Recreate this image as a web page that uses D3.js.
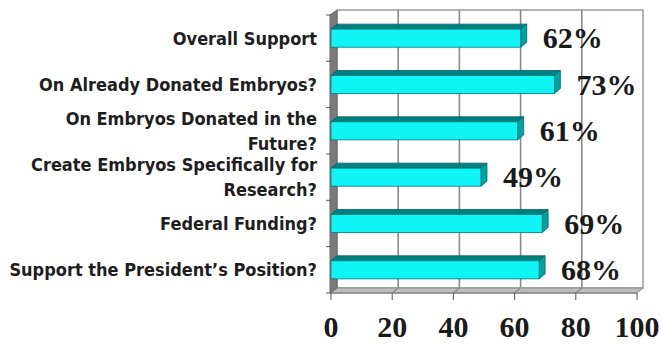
<!DOCTYPE html>
<html><head><meta charset="utf-8">
<script src="https://cdn.jsdelivr.net/npm/d3@7"></script>
<style>
html,body{margin:0;padding:0;background:#fff;}
svg{display:block;}
.cat{font-family:"Liberation Sans Narrow","Arial Narrow","DejaVu Sans Condensed",sans-serif;font-weight:bold;font-size:18px;fill:#1e1e1e;}
.val,.tick{font-family:"Liberation Serif","Times New Roman",serif;font-weight:bold;font-size:30px;fill:#1a1a1a;}
</style></head>
<body>
<svg id="chart" width="662" height="345"></svg>
<script>
const categories = ["Overall Support","On Already Donated Embryos?","On Embryos Donated in the Future?","Create Embryos Specifically for Research?","Federal Funding?","Support the President\u2019s Position?"];
const categoryLines = [["Overall Support"],["On Already Donated Embryos?"],["On Embryos Donated in the","Future?"],["Create Embryos Specifically for","Research?"],["Federal Funding?"],["Support the President\u2019s Position?"]];
const values = [62,73,61,49,69,68];
const xTicks = [0,20,40,60,80,100];
const valueLabels = ["62%","73%","61%","49%","69%","68%"];

const svg = d3.select("#chart");
const dx = 6, dy = -5;
const x = d3.scaleLinear().domain([0,100]).range([331,637]);
const y = d3.scaleBand().domain(categories).range([15,293]).paddingInner(0.61).paddingOuter(0.305);
const yTop = 15, yBot = 293;

// back wall
svg.append("rect").attr("x",x(0)+dx).attr("y",yTop+dy).attr("width",x(100)-x(0)).attr("height",yBot-yTop)
  .attr("fill","#fff").attr("stroke","#9a9a9a").attr("stroke-width",1.5);
// gridlines on back wall
svg.selectAll(".grid").data(xTicks.slice(1,-1)).join("line")
  .attr("x1",d=>x(d)+dx).attr("x2",d=>x(d)+dx).attr("y1",yTop+dy).attr("y2",yBot+dy)
  .attr("stroke","#8a8a8a").attr("stroke-width",1.6);
// floor
svg.append("path").attr("d",`M${x(0)},${yBot} L${x(100)},${yBot} L${x(100)+dx},${yBot+dy} L${x(0)+dx},${yBot+dy} Z`)
  .attr("fill","#bdbdbd").attr("stroke","#8c8c8c").attr("stroke-width",1);
svg.selectAll(".fgrid").data(xTicks.slice(1,-1)).join("line")
  .attr("x1",d=>x(d)+dx).attr("x2",d=>x(d)).attr("y1",yBot+dy).attr("y2",yBot)
  .attr("stroke","#8a8a8a").attr("stroke-width",1.2);
// left wall
svg.append("path").attr("d",`M${x(0)-1},${yTop} L${x(0)+dx},${yTop+dy} L${x(0)+dx},${yBot+dy} L${x(0)-1},${yBot} Z`)
  .attr("fill","#7a7a7a").attr("stroke","#6a6a6a").attr("stroke-width",1);

// bars
const bars = svg.selectAll(".bar").data(categories).join("g");
const bw = y.bandwidth();
bars.append("path") // top face
  .attr("d",(c,i)=>{const y0=y(c), x1=x(values[i]); return `M${x(0)},${y0} L${x1},${y0} L${x1+dx},${y0+dy} L${x(0)+dx},${y0+dy} Z`;})
  .attr("fill","#00807f").attr("stroke","#005f5f").attr("stroke-width",0.8);
bars.append("path") // side face
  .attr("d",(c,i)=>{const y0=y(c), x1=x(values[i]); return `M${x1},${y0} L${x1+dx},${y0+dy} L${x1+dx},${y0+bw+dy} L${x1},${y0+bw} Z`;})
  .attr("fill","#00a3a3").attr("stroke","#005f5f").attr("stroke-width",0.8);
bars.append("rect") // front face
  .attr("x",x(0)).attr("y",c=>y(c)).attr("width",(c,i)=>x(values[i])-x(0)).attr("height",bw)
  .attr("fill","#0ff4f4").attr("stroke","#007a7a").attr("stroke-width",0.8);

// value labels
svg.selectAll(".val").data(categories).join("text").attr("class","val")
  .attr("x",(c,i)=>x(values[i])+dx+16).attr("y",c=>y(c)+bw/2+10)
  .text((c,i)=>valueLabels[i]);

// left axis ticks
const bounds = d3.range(categories.length+1).map(i=>yTop+i*y.step());
svg.selectAll(".ltick").data(bounds).join("line")
  .attr("x1",x(0)-5).attr("x2",x(0)).attr("y1",d=>d).attr("y2",d=>d)
  .attr("stroke","#555").attr("stroke-width",1);
// bottom axis line & ticks
svg.append("line").attr("x1",x(0)).attr("x2",x(100)).attr("y1",yBot).attr("y2",yBot).attr("stroke","#777").attr("stroke-width",1);
svg.selectAll(".btick").data(xTicks).join("line")
  .attr("x1",d=>x(d)).attr("x2",d=>x(d)).attr("y1",yBot).attr("y2",yBot+7)
  .attr("stroke","#555").attr("stroke-width",1);
svg.selectAll(".tick").data(xTicks).join("text").attr("class","tick")
  .attr("x",d=>x(d)).attr("y",337).attr("text-anchor","middle").text(d=>d);

// category labels
const lh = 25;
categories.forEach((c,i)=>{
  const lines = categoryLines[i];
  const cy = y(c)+bw/2;
  const t = svg.append("text").attr("class","cat").attr("text-anchor","end");
  lines.forEach((ln,j)=>{
    t.append("tspan").attr("x",317).attr("y",cy + 6.5 + (j-(lines.length-1)/2)*lh).text(ln);
  });
});
</script>
</body></html>
